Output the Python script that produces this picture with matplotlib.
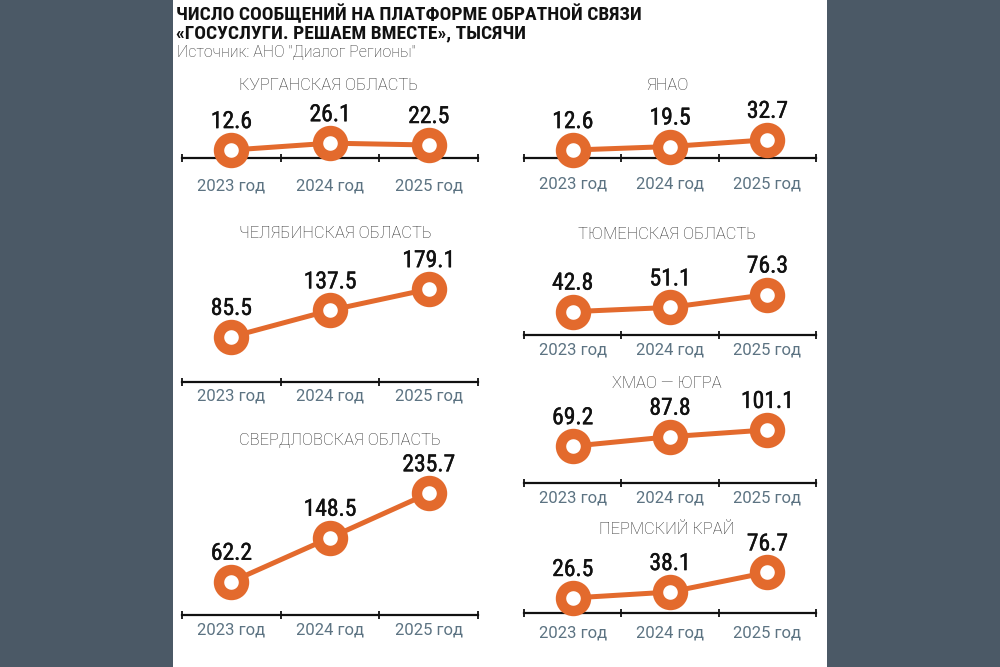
import matplotlib
matplotlib.use("Agg")
import matplotlib.pyplot as plt
import matplotlib.patheffects as pe
from matplotlib.patches import Rectangle
from matplotlib import font_manager

# data
years = ["2023 год", "2024 год", "2025 год"]
regions = ["КУРГАНСКАЯ ОБЛАСТЬ", "ЯНАО", "ЧЕЛЯБИНСКАЯ ОБЛАСТЬ", "ТЮМЕНСКАЯ ОБЛАСТЬ",
           "СВЕРДЛОВСКАЯ ОБЛАСТЬ", "ХМАО — ЮГРА", "ПЕРМСКИЙ КРАЙ"]
kurgan = [12.6, 26.1, 22.5]
yanao = [12.6, 19.5, 32.7]
chelyabinsk = [85.5, 137.5, 179.1]
tyumen = [42.8, 51.1, 76.3]
sverdlovsk = [62.2, 148.5, 235.7]
hmao = [69.2, 87.8, 101.1]
perm = [26.5, 38.1, 76.7]
series = [kurgan, yanao, chelyabinsk, tyumen, sverdlovsk, hmao, perm]

# layout in pixels: column, axis line y, title y, year label offset below axis
layout = [
    ("L", 158, 85, 28),
    ("R", 158, 85, 26),
    ("L", 382, 233, 14),
    ("R", 335, 235, 15),
    ("L", 615, 440, 15),
    ("R", 483, 384, 15),
    ("R", 613, 530, 20),
]

names = {f.name for f in font_manager.fontManager.ttflist}
cond = next((n for n in ["Roboto Condensed", "DejaVu Sans Condensed", "Liberation Sans Narrow"]
             if n in names), "Roboto")

ORANGE = "#E36A2D"
W, H = 1000, 667
PX_PER_UNIT = 0.51
AX_H = 140

fig = plt.figure(figsize=(10, 6.67), dpi=100, facecolor="#4B5966")
fig.add_artist(Rectangle((172.5 / W, 0), 654 / W, 1, transform=fig.transFigure,
                         facecolor="white", edgecolor="none", zorder=0))

fig.text(176 / W, 1 - 14 / H, "ЧИСЛО СООБЩЕНИЙ НА ПЛАТФОРМЕ ОБРАТНОЙ СВЯЗИ",
         fontsize=14, fontweight="bold", family=cond, va="center", color="#111111")
fig.text(176 / W, 1 - 33 / H, "«ГОСУСЛУГИ. РЕШАЕМ ВМЕСТЕ», ТЫСЯЧИ",
         fontsize=14, fontweight="bold", family=cond, va="center", color="#111111")
fig.text(177 / W, 1 - 53 / H, "Источник: АНО \"Диалог Регионы\"",
         fontsize=11.5, fontweight="light", family="Roboto", va="center", color="#333333")

cols = {"L": (182, 296), "R": (524, 292)}
bold_fx = [pe.withStroke(linewidth=0.3, foreground="#111111")]

for name, vals, (col, axis_y, title_y, lab_off) in zip(regions, series, layout):
    x0, w = cols[col]
    ax = fig.add_axes([x0 / W, 1 - axis_y / H, w / W, AX_H / H])
    ax.patch.set_visible(False)
    ax.set_xlim(-0.5, 2.5)
    ax.set_ylim(-3, -3 + AX_H / PX_PER_UNIT)
    for s in ["top", "left", "right"]:
        ax.spines[s].set_visible(False)
    ax.spines["bottom"].set_linewidth(1.6)
    ax.spines["bottom"].set_color("#111111")
    ax.set_yticks([])
    ax.set_xticks([-0.5, 0.5, 1.5, 2.5], labels=[])
    ax.tick_params(axis="x", direction="inout", length=6, width=1.3, color="#111111")

    xs = range(len(vals))
    ax.plot(xs, vals, color=ORANGE, lw=3.6, zorder=3, clip_on=False,
            marker="o", ms=18, mew=7.5, mfc="white", mec=ORANGE)
    for i, v in zip(xs, vals):
        ax.annotate(f"{v:.1f}", (i, v), xytext=(0, 20.5), textcoords="offset points",
                    ha="center", va="center", fontsize=17, fontweight="normal",
                    family=cond, color="#111111", annotation_clip=False,
                    path_effects=bold_fx)
        ax.annotate(years[i], (i, -3), xytext=(0, -lab_off * 0.72), textcoords="offset points",
                    ha="center", va="center", fontsize=12, family="Roboto", color="#5C7382",
                    annotation_clip=False)

    if col == "L":
        fig.text(239 / W, 1 - title_y / H, name, ha="left", va="center", fontsize=11.9,
                 fontweight="light", family="Roboto", color="#2A2A2A")
    else:
        fig.text(667 / W, 1 - title_y / H, name, ha="center", va="center", fontsize=11.9,
                 fontweight="light", family="Roboto", color="#2A2A2A")

fig.savefig("out.png", dpi=100, facecolor=fig.get_facecolor())
